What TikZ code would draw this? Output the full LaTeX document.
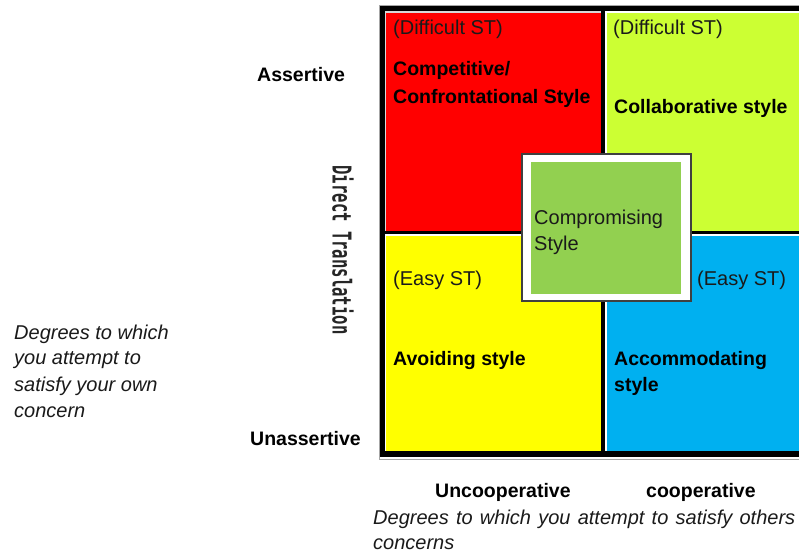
\documentclass[tikz,border=0pt]{standalone}
\usepackage{fontspec}
\setmainfont{Liberation Sans}
\newfontfamily\vertfont{DejaVu Sans Mono}
\definecolor{qred}{HTML}{FF0000}
\definecolor{qlime}{HTML}{CCFF33}
\definecolor{qyellow}{HTML}{FFFF00}
\definecolor{qblue}{HTML}{00B0F0}
\definecolor{qgreen}{HTML}{92D050}
\definecolor{txt}{HTML}{1A1A1A}
\definecolor{edge}{HTML}{D8D8D8}
\begin{document}
\begin{tikzpicture}[x=1pt,y=-1pt,
  lbl/.style={anchor=base west, inner sep=0pt, text=txt, font=\fontsize{20}{24}\selectfont},
  blbl/.style={anchor=base west, inner sep=0pt, text=black, font=\fontsize{19.5}{24}\selectfont\bfseries},
  ilbl/.style={anchor=base west, inner sep=0pt, text=txt, font=\fontsize{20}{24}\selectfont\itshape}]
\useasboundingbox (0,0) rectangle (799,556);
\clip (0,0) rectangle (799,556);
\fill[white] (0,0) rectangle (799,556);
% outer frame
\draw[gray!70, line width=1] (379.5,5.5) rectangle (806,459.5);
\fill[black] (380,6) rectangle (806,458);
\fill[white] (380,457) rectangle (806,458);
% cells with light top/left edges
\fill[edge] (384.5,11.5) rectangle (601,231);
\fill[qred] (386,13) rectangle (601,231);
\fill[white] (605,11.5) rectangle (806,231);
\fill[qlime] (607,13) rectangle (806,231);
\fill[white] (384.5,234) rectangle (601,451);
\fill[qyellow] (386,236) rectangle (601,451);
\fill[white] (605,234) rectangle (806,451);
\fill[qblue] (607,236) rectangle (806,451);
% compromising box
\filldraw[fill=white, draw=black!75, line width=1.5] (522,154) rectangle (691,301);
\fill[qgreen] (531,162) rectangle (681,294);
% cell texts
\node[lbl] (d1) at (393,35) {(Difficult ST)};
\node[blbl] (c1) at (393,76) {Competitive/};
\node[blbl] (c2) at (393,104) {Confrontational Style};
\node[lbl] (d2) at (613,35) {(Difficult ST)};
\node[blbl] (co) at (614,114) {Collaborative style};
\node[lbl] (e1) at (393,285) {(Easy ST)};
\node[blbl] (av) at (393,365) {Avoiding style};
\node[lbl] (e2) at (697,285) {(Easy ST)};
\node[blbl] (ac1) at (614,365) {Accommodating};
\node[blbl] (ac2) at (614,391) {style};
\node[lbl] (cp1) at (534,224) {Compromising};
\node[lbl] (cp2) at (534,250) {Style};
% axis labels
\node[blbl] (as) at (257,82) {Assertive};
\node[blbl] (un) at (250,445) {Unassertive};
\node[blbl] (uc) at (435,497) {Uncooperative};
\node[blbl] (cc) at (646,497) {cooperative};
\node[ilbl] (b1) at (373,524) {\makebox[422pt][s]{Degrees to which you attempt to satisfy others}};
\node[ilbl] (b2) at (373,549) {concerns};
\node[ilbl] (l1) at (14,339) {Degrees to which};
\node[ilbl] (l2) at (14,364) {you attempt to};
\node[ilbl] (l3) at (14,391) {satisfy your own};
\node[ilbl] (l4) at (14,417) {concern};
\node[inner sep=0pt, rotate=-90, text=black!85, font=\vertfont\fontsize{26}{28}\selectfont\bfseries] (dt) at (343,250) {\scalebox{0.6}[1]{Direct Translation}};
\end{tikzpicture}
\end{document}
